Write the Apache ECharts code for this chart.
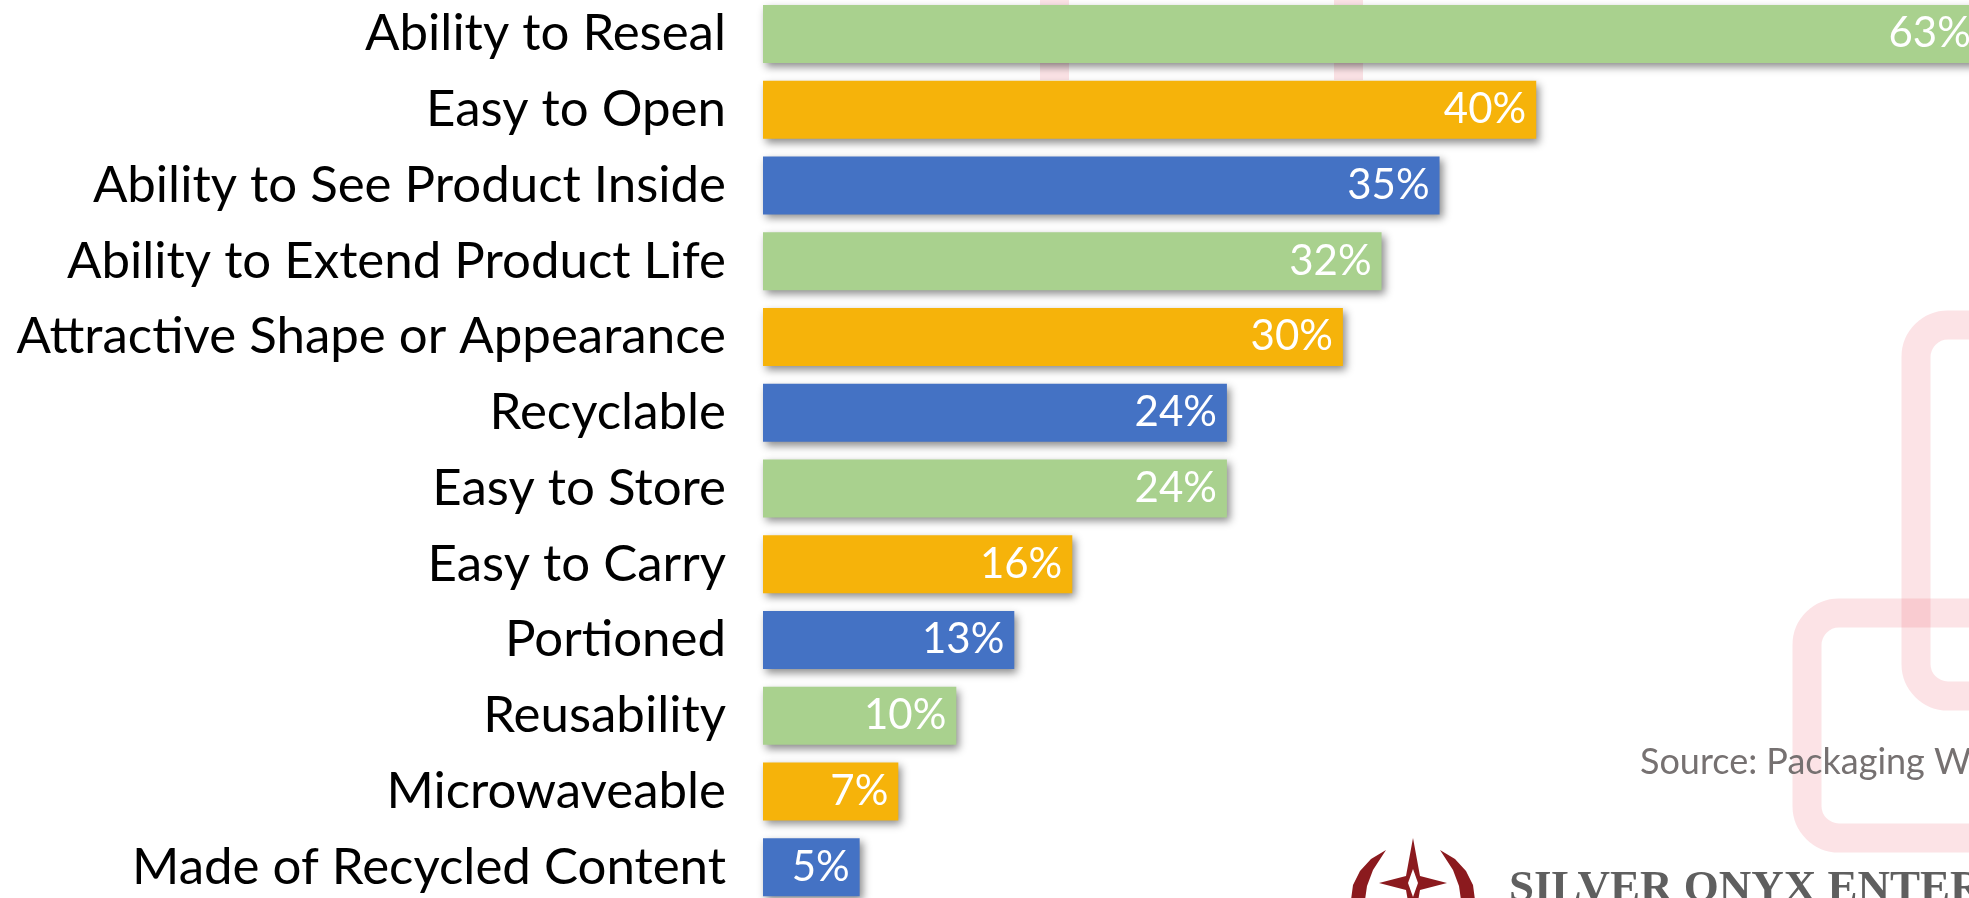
<!DOCTYPE html>
<html>
<head>
<meta charset="utf-8">
<script src="https://cdn.jsdelivr.net/npm/echarts@6/dist/echarts.min.js"></script>
<style>
  html, body { margin: 0; padding: 0; background: #fff; }
  #chart { width: 1969px; height: 898px; }
</style>
</head>
<body>
<div id="chart"></div>
<script>
var categories = [
  'Ability to Reseal',
  'Easy to Open',
  'Ability to See Product Inside',
  'Ability to Extend Product Life',
  'Attractive Shape or Appearance',
  'Recyclable',
  'Easy to Store',
  'Easy to Carry',
  'Portioned',
  'Reusability',
  'Microwaveable',
  'Made of Recycled Content'
]
var values = [63, 40, 35, 32, 30, 24, 24, 16, 13, 10, 7, 5]
var palette = ['#A9D18E', '#F6B30A', '#4472C4']
var sourceText = 'Source: Packaging World'
var brandText = 'SILVER ONYX ENTERPRISE'

var chart = echarts.init(document.getElementById('chart'))
var pink = 'rgba(232, 70, 90, 0.15)'
var logoRed = '#8B1A1E'

var barData = []
for (var i = 0; i < values.length; i++) {
  barData.push({
    value: values[i],
    itemStyle: { color: palette[i % palette.length] }
  })
}

var option = {
  backgroundColor: '#ffffff',
  animation: false,
  grid: {
    left: 763,
    top: -4,
    width: 63 * 19.33,
    height: 909,
    containLabel: false,
    outerBoundsMode: 'none'
  },
  xAxis: {
    type: 'value',
    min: 0,
    max: 63,
    show: false
  },
  yAxis: {
    type: 'category',
    inverse: true,
    data: categories,
    axisLine: { show: false },
    axisTick: { show: false },
    splitLine: { show: false },
    axisLabel: {
      margin: 37,
      color: '#000000',
      fontFamily: 'Lato',
      fontSize: 51
    }
  },
  graphic: [
    // faint watermark behind the chart
    { type: 'rect', z: -1, shape: { x: 1040, y: 0, width: 29, height: 80 }, style: { fill: pink } },
    { type: 'rect', z: -1, shape: { x: 1334, y: 0, width: 29, height: 80 }, style: { fill: pink } },
    {
      type: 'rect', z: -1,
      shape: { x: 1916, y: 325, width: 200, height: 371, r: 32 },
      style: { fill: null, stroke: pink, lineWidth: 29 }
    },
    {
      type: 'rect', z: -1,
      shape: { x: 1807, y: 613, width: 300, height: 225, r: 32 },
      style: { fill: null, stroke: pink, lineWidth: 29 }
    },
    {
      type: 'text', z: 1,
      left: 1640, top: 744,
      style: { text: sourceText, fill: '#767171', font: '36px Lato' }
    },
    // logo
    {
      type: 'polygon', z: 1,
      shape: { points: [[1413, 838], [1420, 876], [1447, 883], [1420, 890], [1413, 930], [1406, 890], [1379, 883], [1406, 876]] },
      style: { fill: logoRed }
    },
    {
      type: 'polygon', z: 1,
      shape: { points: [[1413, 869], [1418, 883], [1413, 897], [1408, 883]] },
      style: { fill: '#ffffff' }
    },
    {
      type: 'polygon', z: 1,
      shape: { points: [[1386, 850], [1371, 859], [1360, 871], [1353, 885], [1351, 900], [1365, 900], [1367, 886], [1373, 870], [1386, 850]] },
      style: { fill: logoRed }
    },
    {
      type: 'polygon', z: 1,
      shape: { points: [[1440, 850], [1455, 859], [1466, 871], [1473, 885], [1475, 900], [1461, 900], [1459, 886], [1453, 870], [1440, 850]] },
      style: { fill: logoRed }
    },
    {
      type: 'text', z: 1,
      left: 1509, top: 867,
      style: { text: brandText, fill: '#5f5f5f', font: 'bold 45px "Liberation Serif"' }
    }
  ],
  series: [
    {
      type: 'bar',
      data: barData,
      barWidth: 58,
      itemStyle: {
        shadowColor: 'rgba(0, 0, 0, 0.45)',
        shadowBlur: 8,
        shadowOffsetX: 3,
        shadowOffsetY: 4
      },
      label: {
        show: true,
        position: 'insideRight',
        distance: 10,
        formatter: '{c}%',
        color: '#ffffff',
        fontFamily: 'Lato',
        fontSize: 42
      }
    }
  ]
}

chart.setOption(option)
</script>
</body>
</html>
